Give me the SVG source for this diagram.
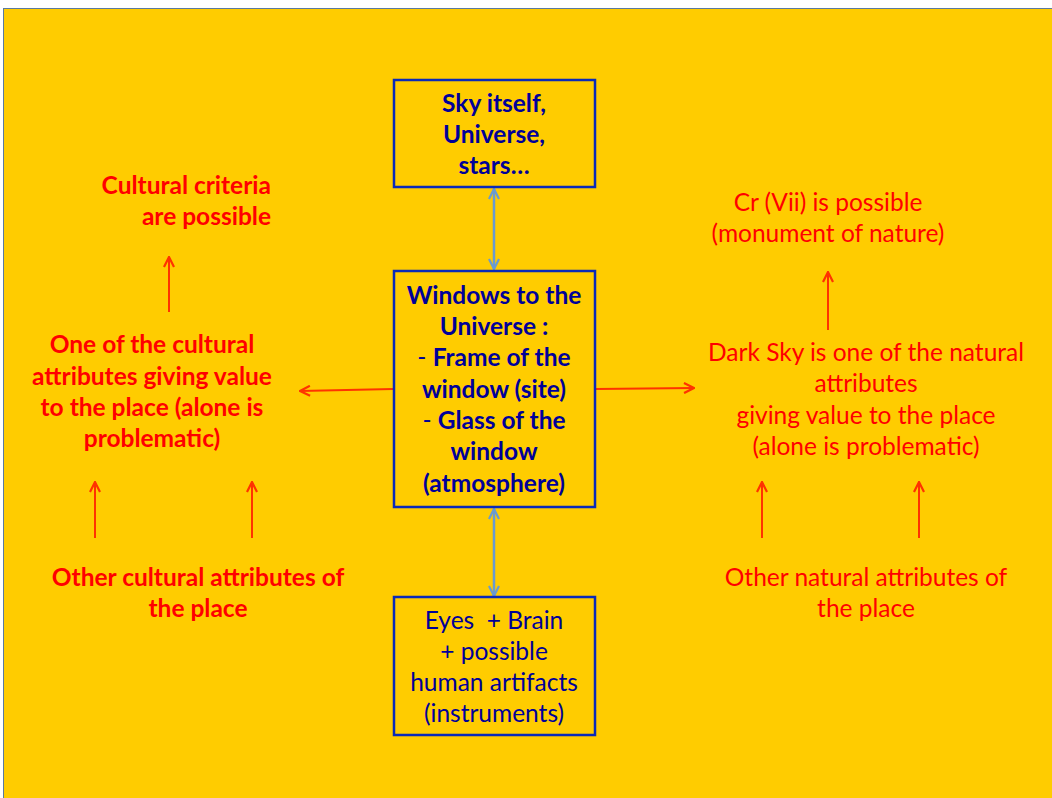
<svg xmlns="http://www.w3.org/2000/svg" width="1052" height="798" viewBox="0 0 1052 798">
<defs>
<style>
.box{fill:none;stroke:#0a2ab8;stroke-width:2.5}
.bt{font-family:Lato,"Liberation Sans",sans-serif;font-size:24.5px;font-weight:bold;fill:#000099;text-anchor:middle}
.nt{font-family:Lato,"Liberation Sans",sans-serif;font-size:24.5px;fill:#000099;text-anchor:middle}
.rb{font-family:Lato,"Liberation Sans",sans-serif;font-size:24.5px;font-weight:bold;fill:#ff0000;text-anchor:middle}
.rn{font-family:Lato,"Liberation Sans",sans-serif;font-size:24.5px;fill:#ff0000;text-anchor:middle}
.end{text-anchor:end}
.pre{white-space:pre}
.ra{stroke:#ff3300;stroke-width:2;fill:none;marker-end:url(#rh)}
.ba{stroke:#6a9bd0;stroke-width:2.5;fill:none;marker-start:url(#bh);marker-end:url(#bh)}
</style>
<marker id="rh" viewBox="0 0 12 12" refX="11" refY="6" markerWidth="12" markerHeight="12" markerUnits="userSpaceOnUse" orient="auto-start-reverse">
<path d="M1,1 L11,6 L1,11" fill="none" stroke="#ff3300" stroke-width="2.2"/>
</marker>
<marker id="bh" viewBox="0 0 12 12" refX="11" refY="6" markerWidth="12" markerHeight="12" markerUnits="userSpaceOnUse" orient="auto-start-reverse">
<path d="M1,1 L11,6 L1,11" fill="none" stroke="#6a9bd0" stroke-width="2.2"/>
</marker>
</defs>
<rect x="0" y="0" width="1052" height="798" fill="#ffffff"/>
<rect x="3.5" y="8.5" width="1060" height="800" fill="#ffcc00" stroke="#5b7a9e" stroke-width="1"/>

<g id="connectors">
<line class="ba" x1="494" y1="189" x2="494" y2="269"/>
<line class="ba" x1="494" y1="509" x2="494" y2="596"/>
<line class="ra" x1="393" y1="389" x2="300" y2="391"/>
<line class="ra" x1="596" y1="389" x2="694" y2="388"/>
<line class="ra" x1="169" y1="312" x2="169" y2="257"/>
<line class="ra" x1="95" y1="538" x2="95" y2="482"/>
<line class="ra" x1="252" y1="538" x2="252" y2="482"/>
<line class="ra" x1="828" y1="330" x2="828" y2="272"/>
<line class="ra" x1="762" y1="538" x2="762" y2="482"/>
<line class="ra" x1="919" y1="538" x2="919" y2="482"/>
</g>

<g id="sky">
<rect class="box" x="394" y="80" width="201" height="107"/>
<text class="bt" x="494" y="112">Sky itself,</text>
<text class="bt" x="494" y="143">Universe,</text>
<text class="bt" x="494" y="174">stars…</text>
</g>

<g id="windows">
<rect class="box" x="394" y="271" width="201" height="236"/>
<text class="bt" x="494" y="304">Windows to the</text>
<text class="bt" x="494" y="335">Universe :</text>
<text class="bt" x="494" y="366"><tspan font-weight="normal">- </tspan>Frame of the</text>
<text class="bt" x="494" y="398">window (site)</text>
<text class="bt" x="494" y="429"><tspan font-weight="normal">- </tspan>Glass of the</text>
<text class="bt" x="494" y="460">window</text>
<text class="bt" x="494" y="492">(atmosphere)</text>
</g>

<g id="eyes">
<rect class="box" x="394" y="597" width="201" height="138"/>
<text class="nt pre" x="494" y="629">Eyes  + Brain</text>
<text class="nt" x="494" y="660">+ possible</text>
<text class="nt" x="494" y="691">human artifacts</text>
<text class="nt" x="494" y="722">(instruments)</text>
</g>

<g id="cultural-criteria">
<text class="rb end" x="271" y="194">Cultural criteria</text>
<text class="rb end" x="271" y="225">are possible</text>
</g>

<g id="cultural-attribute">
<text class="rb" x="152" y="353">One of the cultural</text>
<text class="rb" x="152" y="385">attributes giving value</text>
<text class="rb" x="152" y="416">to the place (alone is</text>
<text class="rb" x="152" y="447">problematic)</text>
</g>

<g id="other-cultural">
<text class="rb" x="198" y="586">Other cultural attributes of</text>
<text class="rb" x="198" y="617">the place</text>
</g>

<g id="cr-vii">
<text class="rn" x="828" y="211">Cr (Vii) is possible</text>
<text class="rn" x="828" y="242">(monument of nature)</text>
</g>

<g id="dark-sky">
<text class="rn" x="866" y="361">Dark Sky is one of the natural</text>
<text class="rn" x="866" y="392">attributes</text>
<text class="rn" x="866" y="424">giving value to the place</text>
<text class="rn" x="866" y="455">(alone is problematic)</text>
</g>

<g id="other-natural">
<text class="rn" x="866" y="586">Other natural attributes of</text>
<text class="rn" x="866" y="617">the place</text>
</g>
</svg>
